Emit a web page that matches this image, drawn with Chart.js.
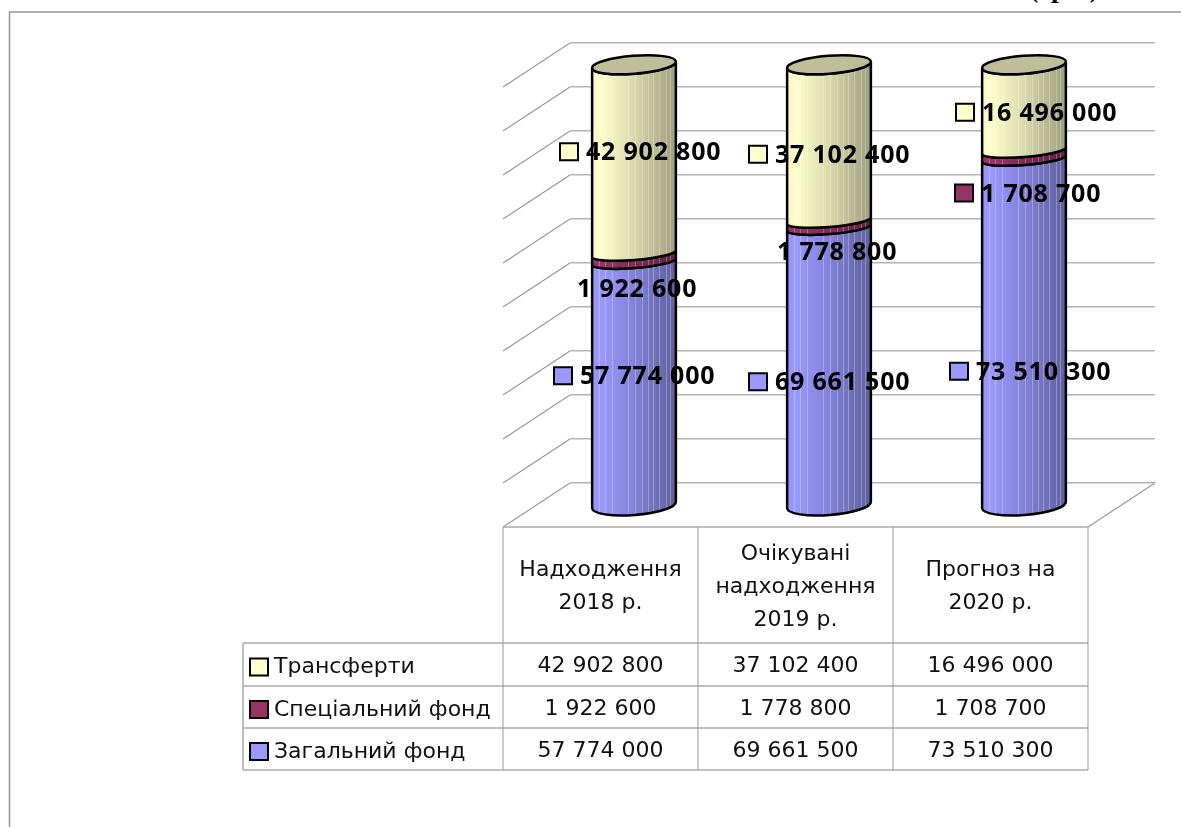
<!DOCTYPE html>
<html>
<head>
<meta charset="utf-8">
<title>Надходження</title>
<script src="https://cdn.jsdelivr.net/npm/chart.js@4"></script>
<style>
    html, body { margin: 0; padding: 0; background: #fff; overflow: hidden; }
    canvas { display: block; }
</style>
</head>
<body>
<canvas id="myChart" width="1181" height="827"></canvas>
<script>
///////////////////////////////////////
/////////////// Data //////////////////
///////////////////////////////////////

const categories = [
    ['Надходження', '2018 р.'],
    ['Очікувані', 'надходження', '2019 р.'],
    ['Прогноз на', '2020 р.'],
];
const seriesNames = ['Загальний фонд', 'Спеціальний фонд', 'Трансферти'];
const generalFund = [57774000, 69661500, 73510300];
const specialFund = [1922600, 1778800, 1708700];
const transfers = [42902800, 37102400, 16496000];
const seriesValues = [generalFund, specialFund, transfers];
const percentTicks = [0, 10, 20, 30, 40, 50, 60, 70, 80, 90, 100];

// Hand placed value labels: offset from the middle of each cylinder segment
const labelDx = [[-54, -54, -48], [-57, -52, -43], [-48, -54, -42]];
const labelDy = [[-6, 17, 41], [32, 29, 40], [-10, 9, 2]];
const labelHasKey = [[true, true, true], [false, false, true], [true, true, true]];

const seriesColors = [[153, 153, 255], [153, 51, 102], [255, 255, 204]];
const capColor = '#BEBE9B';
const streaks = [0.08, 0.16, 0.24, 0.43, 0.51, 0.59, 0.67, 0.73, 0.8, 0.88, 0.93];

// Depth of the floor, from the back wall to the front edge
const DEPTH_X = 67;
const DEPTH_Y = 44;
const RX = 42;
const RY_CAP = 9;
const RY_JOINT = 6.5;
const RY_BASE = 10;
const ROT = -0.078;
// The cap sits a little above the top of the full stack
const CAP_LIFT = 8;

const totals = categories.map((c, i) => generalFund[i] + specialFund[i] + transfers[i]);
const fmt = v => String(v).replace(/\B(?=(\d{3})+$)/g, ' ');
const rgb = (c, k) => `rgb(${Math.round(c[0] * k)},${Math.round(c[1] * k)},${Math.round(c[2] * k)})`;

///////////////////////////////////////
/////////////// Plugins ///////////////
///////////////////////////////////////

// Side wall, floor, table and outer frame
const frame3d = {
    id: 'frame3d',
    beforeDatasetsDraw(chart) {
        const { ctx, scales: { x, y }, chartArea: a } = chart;
        ctx.save();

        // outer frame and the clipped unit caption
        ctx.strokeStyle = '#999';
        ctx.lineWidth = 1.5;
        ctx.beginPath();
        ctx.moveTo(9.5, 827);
        ctx.lineTo(9.5, 12);
        ctx.lineTo(1181, 12);
        ctx.stroke();
        ctx.fillStyle = '#000';
        ctx.font = 'bold 28px "Liberation Serif"';
        ctx.textAlign = 'left';
        ctx.textBaseline = 'alphabetic';
        ctx.fillText('(грн.)', 1029, -3);

        // side wall
        ctx.strokeStyle = '#999';
        ctx.lineWidth = 1.2;
        percentTicks.forEach(t => {
            const py = y.getPixelForValue(t);
            ctx.beginPath();
            ctx.moveTo(a.left, py);
            ctx.lineTo(a.left - DEPTH_X, py + DEPTH_Y);
            ctx.stroke();
        });

        // floor right edge
        ctx.beginPath();
        ctx.moveTo(a.right, a.bottom);
        ctx.lineTo(a.right - DEPTH_X, a.bottom + DEPTH_Y);
        ctx.stroke();

        // table
        const left = a.left - DEPTH_X;
        const right = a.right - DEPTH_X;
        const top = a.bottom + DEPTH_Y;
        const rows = [643, 686, 728, 770];
        const tableLeft = 243;
        ctx.strokeStyle = '#aaa';
        ctx.lineWidth = 1.5;
        ctx.beginPath();
        ctx.moveTo(left, top);
        ctx.lineTo(right, top);
        rows.forEach(r => {
            ctx.moveTo(tableLeft, r);
            ctx.lineTo(right, r);
        });
        ctx.moveTo(tableLeft, rows[0]);
        ctx.lineTo(tableLeft, rows[3]);
        ctx.stroke();
        ctx.strokeStyle = '#999';
        ctx.lineWidth = 1;
        ctx.beginPath();
        const cellW = (right - left) / categories.length;
        for (let i = 0; i <= categories.length; i++) {
            ctx.moveTo(left + i * cellW, top);
            ctx.lineTo(left + i * cellW, rows[3]);
        }
        ctx.stroke();

        // header cells
        ctx.fillStyle = '#111';
        ctx.font = '22px "DejaVu Sans"';
        ctx.textAlign = 'center';
        ctx.textBaseline = 'middle';
        const headMid = (top + rows[0]) / 2;
        categories.forEach((lines, i) => {
            const cx = x.getPixelForValue(i) - DEPTH_X;
            lines.forEach((line, k) => {
                ctx.fillText(line, cx, headMid + 2 + (k - (lines.length - 1) / 2) * 33);
            });
        });

        // rows, top one is the last series
        [2, 1, 0].forEach((s, r) => {
            const mid = (rows[r] + rows[r + 1]) / 2;
            drawKey(ctx, 250, mid - 6, seriesColors[s]);
            ctx.fillStyle = '#111';
            ctx.textAlign = 'left';
            ctx.fillText(seriesNames[s], 274, mid + 3);
            ctx.textAlign = 'center';
            seriesValues[s].forEach((v, i) => {
                ctx.fillText(fmt(v), x.getPixelForValue(i) - DEPTH_X, mid + 2);
            });
        });
        ctx.restore();
    },
    // Cylinders are drawn over the invisible bars, labels on top of them
    afterDatasetsDraw(chart) {
        const { ctx } = chart;
        ctx.save();
        chart.data.datasets.forEach((ds, s) => {
            chart.getDatasetMeta(s).data.forEach(bar => drawSegment(ctx, bar, seriesColors[s], s === 0, s === 2));
        });
        chart.data.datasets.forEach((ds, s) => {
            chart.getDatasetMeta(s).data.forEach((bar, i) => {
                const cx = bar.x - DEPTH_X / 2;
                const cy = (bar.y + bar.base) / 2 + DEPTH_Y / 2;
                const tx = cx + labelDx[s][i];
                const ty = cy + labelDy[s][i];
                if (labelHasKey[s][i]) {
                    drawKey(ctx, tx - 26, ty - 10, seriesColors[s]);
                }
                ctx.fillStyle = '#000';
                ctx.font = 'bold 25px "Open Sans"';
                ctx.letterSpacing = '0.8px';
                ctx.textAlign = 'left';
                ctx.textBaseline = 'middle';
                ctx.fillText(fmt(seriesValues[s][i]), tx, ty);
                ctx.letterSpacing = '0px';
            });
        });
        ctx.restore();
    },
};

function drawKey(ctx, x, y, color) {
    ctx.fillStyle = rgb(color, 1);
    ctx.strokeStyle = '#000';
    ctx.lineWidth = 2;
    ctx.beginPath();
    ctx.rect(x, y, 18, 17);
    ctx.fill();
    ctx.stroke();
}

function drawSegment(ctx, bar, color, isBottom, withCap) {
    const cx = bar.x - DEPTH_X / 2;
    const yTop = bar.y + DEPTH_Y / 2 - (withCap ? CAP_LIFT : 0);
    const yBase = bar.base + DEPTH_Y / 2;
    const ryTop = withCap ? RY_CAP : RY_JOINT;
    const ryBase = isBottom ? RY_BASE : RY_JOINT;

    const body = new Path2D();
    body.ellipse(cx, yBase, RX, ryBase, ROT, Math.PI, 0, true);
    body.ellipse(cx, yTop, RX, ryTop, ROT, 0, Math.PI, false);
    body.closePath();

    const g = ctx.createLinearGradient(cx - RX, 0, cx + RX, 0);
    g.addColorStop(0, rgb(color, 0.97));
    g.addColorStop(0.1, rgb(color, 1));
    g.addColorStop(0.5, rgb(color, 0.85));
    g.addColorStop(1, rgb(color, 0.62));
    ctx.fillStyle = g;
    ctx.fill(body);

    ctx.save();
    ctx.clip(body);
    ctx.strokeStyle = 'rgba(255,255,255,0.28)';
    ctx.lineWidth = 1;
    streaks.forEach(f => {
        const sx = Math.round(cx - RX + f * 2 * RX) + 0.5;
        ctx.beginPath();
        ctx.moveTo(sx, yTop - RY_BASE * 2);
        ctx.lineTo(sx, yBase + RY_BASE * 2);
        ctx.stroke();
    });
    ctx.restore();

    ctx.strokeStyle = '#000';
    ctx.lineWidth = 2.5;
    ctx.stroke(body);

    if (withCap) {
        ctx.fillStyle = capColor;
        ctx.beginPath();
        ctx.ellipse(cx, yTop, RX, ryTop, ROT, 0, Math.PI * 2);
        ctx.fill();
        ctx.stroke();
    }
}

///////////////////////////////////////
/////////////// Chart /////////////////
///////////////////////////////////////

const myChart = new Chart(document.getElementById('myChart'), {
    type: 'bar',
    data: {
        labels: categories,
        datasets: seriesValues.map((values, s) => ({
            label: seriesNames[s],
            data: values.map((v, i) => v / totals[i] * 100),
            backgroundColor: 'transparent',
            borderWidth: 0,
            barThickness: 84,
            yAxisID: 'yBars',
        })),
    },
    options: {
        responsive: false,
        animation: false,
        layout: {
            padding: { left: 570, right: 26, top: 43, bottom: 344 },
        },
        scales: {
            x: {
                stacked: true,
                display: false,
            },
            y: {
                min: 0,
                max: 100,
                border: { display: false },
                grid: { color: '#b4b4b4', lineWidth: 1.5, drawTicks: false },
                ticks: { display: false, stepSize: 10 },
            },
            // same height as y, the stacks stop just under the top wall line
            yBars: {
                stacked: true,
                display: false,
                min: 0,
                max: 101.8,
            },
        },
        plugins: {
            legend: { display: false },
            tooltip: { enabled: false },
        },
    },
    plugins: [frame3d],
});
</script>
</body>
</html>
